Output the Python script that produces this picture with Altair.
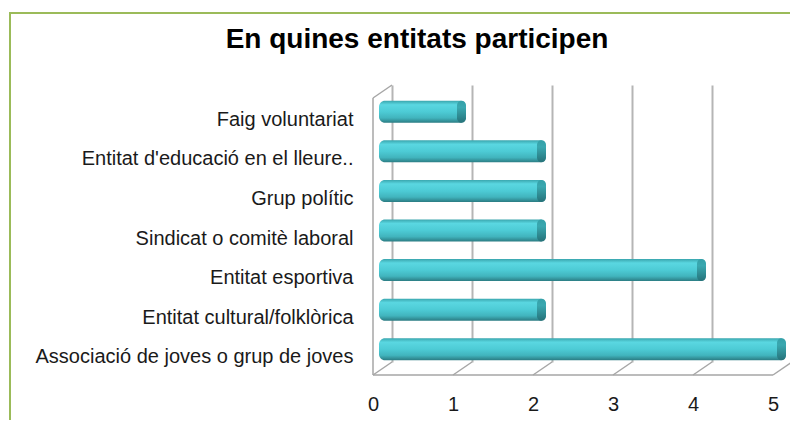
import altair as alt
import pandas as pd

title_text = "En quines entitats participen"
categories = [
    "Faig voluntariat",
    "Entitat d'educació en el lleure..",
    "Grup polític",
    "Sindicat o comitè laboral",
    "Entitat esportiva",
    "Entitat cultural/folklòrica",
    "Associació de joves o grup de joves",
]
values = [1, 2, 2, 2, 4, 2, 5]
ticks = [0, 1, 2, 3, 4, 5]

FONT = "Liberation Sans, Arial, sans-serif"
W, H = 400, 277
FRAME = "#A6A6A6"

df = pd.DataFrame({"cat": categories, "val": values})
tick_df = pd.DataFrame({"t": ticks})
one = pd.DataFrame({"title": [title_text]})

xscale = alt.Scale(domain=[0, 5], nice=False, zero=True)
yscale = alt.Scale(domain=categories, paddingInner=0, paddingOuter=0)

bar_grad = alt.Gradient(
    gradient="linear",
    x1=0, x2=0, y1=0, y2=1,
    stops=[
        alt.GradientStop(color="#3AA6AE", offset=0),
        alt.GradientStop(color="#5AD7E1", offset=0.18),
        alt.GradientStop(color="#4DCBD5", offset=0.5),
        alt.GradientStop(color="#41B4BD", offset=0.78),
        alt.GradientStop(color="#2B7C83", offset=1),
    ],
)
cap_grad = alt.Gradient(
    gradient="linear",
    x1=0, x2=0, y1=0, y2=1,
    stops=[
        alt.GradientStop(color="#34A0A8", offset=0),
        alt.GradientStop(color="#3AA8B0", offset=0.3),
        alt.GradientStop(color="#267279", offset=1),
    ],
)

xaxis = alt.Axis(
    values=ticks, grid=True, gridColor="#B5B5B5", gridWidth=2,
    ticks=False, domain=False, tickOffset=6, labelOffset=-19,
    labelFlush=False, labelBound=False,
    labelPadding=32, labelFontSize=20, labelFont=FONT, labelColor="#1A1A1A",
    title=None, format="d",
)
yaxis = alt.Axis(
    ticks=False, domain=False, grid=False, labelOffset=15, labelPadding=33,
    labelFontSize=20, labelFont=FONT, labelColor="#1A1A1A", title=None,
    labelLimit=400,
)

base = alt.Chart(df)

bars = base.mark_bar(size=22, yOffset=7, cornerRadius=6, x2Offset=-7, color=bar_grad).encode(
    x=alt.X("val:Q", scale=xscale, axis=xaxis),
    x2=alt.datum(0),
    y=alt.Y("cat:N", scale=yscale, sort=categories, axis=yaxis),
)

caps = base.mark_bar(size=22, yOffset=7, cornerRadius=5, x2Offset=-9, color=cap_grad).encode(
    x=alt.X("val:Q", scale=xscale),
    x2="val:Q",
    y=alt.Y("cat:N", scale=yscale, sort=categories),
)

floor_diag = alt.Chart(tick_df).mark_rule(
    xOffset=-13, x2Offset=6, color=FRAME, strokeWidth=1.5
).encode(
    x=alt.X("t:Q", scale=xscale), x2="t:Q",
    y=alt.value(H + 13), y2=alt.value(H),
)

one_row = alt.Chart(one)
front_floor = one_row.mark_rule(xOffset=-13, x2Offset=-13, color=FRAME, strokeWidth=1.5).encode(
    x=alt.datum(0), x2=alt.datum(5), y=alt.value(H + 13)
)
left_front = one_row.mark_rule(xOffset=-13, color=FRAME, strokeWidth=1.5).encode(
    x=alt.datum(0), y=alt.value(13), y2=alt.value(H + 13)
)
top_diag = one_row.mark_rule(xOffset=-13, x2Offset=6, color=FRAME, strokeWidth=1.5).encode(
    x=alt.datum(0), x2=alt.datum(0), y=alt.value(13), y2=alt.value(0)
)

border = one_row.mark_rect(fillOpacity=0, stroke="#9BBB59", strokeWidth=2).encode(
    x=alt.value(-376), x2=alt.value(430), y=alt.value(-72), y2=alt.value(400)
)

title = one_row.mark_text(
    font=FONT, fontSize=28, fontWeight="bold", color="#000000",
    align="center", baseline="alphabetic",
).encode(text="title:N", x=alt.value(31), y=alt.value(-37))

chart = alt.layer(
    border, floor_diag, front_floor, left_front, top_diag, bars, caps, title
).properties(
    width=W, height=H,
    autosize=alt.AutoSizeParams(type="none"),
    padding={"left": 378, "top": 77, "right": 4, "bottom": 58},
    background="#FFFFFF",
).configure_view(strokeWidth=0)

chart.save("out.html", embed_options={"renderer": "svg", "actions": False})
